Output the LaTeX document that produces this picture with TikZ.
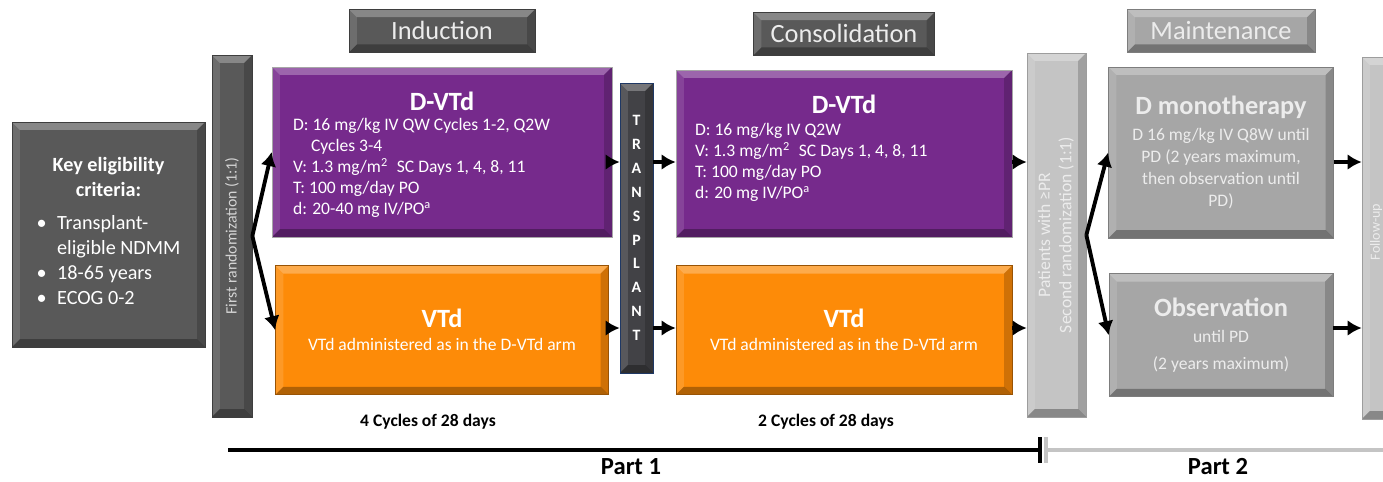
\documentclass[tikz,border=0pt]{standalone}
\usepackage{fontspec}
\setmainfont{Carlito}
\usepackage{graphicx}
\usetikzlibrary{positioning,arrows.meta}

\definecolor{boxdark}{RGB}{89,89,89}
\definecolor{boxslate}{RGB}{66,66,70}
\definecolor{slateedge}{RGB}{31,56,100}
\definecolor{armpurple}{RGB}{118,42,140}
\definecolor{armorange}{RGB}{253,139,8}
\definecolor{boxlight}{RGB}{196,196,196}
\definecolor{boxmid}{RGB}{166,166,166}
\definecolor{textpale}{RGB}{236,236,236}

\begin{document}
\begin{tikzpicture}
    [
        x=0.02cm, y=-0.02cm,
        bevel/.style={path picture={
            \fill[white, opacity=0.28]
                (path picture bounding box.north west) -- (path picture bounding box.north east)
                -- ([shift={(-4.5pt,-4.5pt)}]path picture bounding box.north east)
                -- ([shift={(4.5pt,-4.5pt)}]path picture bounding box.north west) -- cycle;
            \fill[white, opacity=0.12]
                (path picture bounding box.north west) -- ([shift={(4.5pt,-4.5pt)}]path picture bounding box.north west)
                -- ([shift={(4.5pt,4.5pt)}]path picture bounding box.south west) -- (path picture bounding box.south west) -- cycle;
            \fill[black, opacity=0.30]
                (path picture bounding box.south west) -- ([shift={(4.5pt,4.5pt)}]path picture bounding box.south west)
                -- ([shift={(-4.5pt,4.5pt)}]path picture bounding box.south east) -- (path picture bounding box.south east) -- cycle;
            \fill[black, opacity=0.18]
                (path picture bounding box.north east) -- (path picture bounding box.south east)
                -- ([shift={(-4.5pt,4.5pt)}]path picture bounding box.south east)
                -- ([shift={(-4.5pt,-4.5pt)}]path picture bounding box.north east) -- cycle;
        }},
        panel/.style={shape=rectangle, bevel, inner sep=0pt, thin},
        dark box/.style={panel, fill=boxdark, draw=boxdark!70!black, text=white},
        phase head/.style={dark box, minimum width=3.72cm, minimum height=0.86cm,
                           text=textpale, font=\fontsize{15}{18}\selectfont},
        rand bar/.style={dark box, minimum width=0.8cm, minimum height=7.24cm,
                         text=textpale!90!black, font=\fontsize{9}{11}\selectfont},
        light bar/.style={panel, fill=boxlight, draw=boxlight!80!black, minimum width=1.18cm,
                          minimum height=7.28cm, text=textpale, font=\fontsize{10}{12}\selectfont},
        slate bar/.style={panel, fill=boxslate, draw=slateedge, minimum width=0.66cm, minimum height=5.8cm,
                          align=center, text=white, font=\bfseries\fontsize{9}{13.6}\selectfont},
        purple arm/.style={panel, fill=armpurple, draw=gray!70, minimum width=6.8cm, minimum height=3.4cm},
        orange arm/.style={panel, fill=armorange, draw=armorange!60!black, minimum width=6.66cm,
                           minimum height=2.58cm, align=center, text=white, font=\fontsize{10}{12}\selectfont},
        grey arm/.style={panel, fill=boxmid, draw=boxmid!75!black, minimum width=4.5cm, minimum height=3.42cm,
                         align=center, text=textpale, font=\fontsize{10}{12.6}\selectfont},
        arm title/.style={inner sep=0pt, text=white, font=\bfseries\fontsize{15}{18}\selectfont},
        arm text/.style={inner sep=0pt, text=white, align=left, font=\fontsize{10}{12.05}\selectfont},
        cycle note/.style={inner sep=0pt, font=\bfseries\fontsize{10}{12}\selectfont},
        part label/.style={inner sep=0pt, font=\bfseries\fontsize{14}{16}\selectfont},
        arrow/.style={-{Latex[length=8pt,width=9pt]}, line width=2.2pt, black},
        timeline/.style={line width=2.8pt, black},
        time tick/.style={line width=2.4pt}
    ]
    \useasboundingbox (0,0) rectangle (1383,481);

    % left column
    \node (criteria)
          [dark box, minimum width=3.86cm, minimum height=4.5cm, align=center,
           font=\fontsize{11.5}{14.2}\selectfont]
          at (108.5,234.5)
          {\textbf{Key eligibility}\\\textbf{criteria:}\\[8pt]
           \begin{tabular}{@{}l@{\hspace{6pt}}l@{}}
           \textbullet & Transplant-\\
                       & eligible NDMM\\
           \textbullet & 18-65 years\\
           \textbullet & ECOG 0-2
           \end{tabular}};

    \node (rand one)
          [rand bar]
          at (232,236)
          {\rotatebox{90}{First randomization (1:1)}};

    % part 1
    \node (ind dvtd)
          [purple arm]
          at (442,152)
          {};
    \node (ind dvtd title)
          [arm title, below=0.5cm of ind dvtd.north]
          {D-VTd};
    \node (ind dvtd text)
          [arm text, below right=1.02cm and 0.42cm of ind dvtd.north west]
          {D: 16 mg/kg IV QW Cycles 1-2, Q2W\\
           \hspace*{0.36cm}Cycles 3-4\\
           V: 1.3 mg/m\textsuperscript{2}\enspace SC Days 1, 4, 8, 11\\
           T: 100 mg/day PO\\
           d: 20-40 mg IV/PO\textsuperscript{a}};

    \node (ind vtd)
          [orange arm, below=0.56cm of ind dvtd]
          {{\bfseries\fontsize{15}{18}\selectfont VTd}\\[1pt]
           VTd administered as in the D-VTd arm};

    \node (induction)
          [phase head, above=0.28cm of ind dvtd]
          {Induction};

    \node (transplant)
          [slate bar]
          at (636.5,228)
          {T\\R\\A\\N\\S\\P\\L\\A\\N\\T};

    \node (cons dvtd)
          [purple arm, minimum width=6.72cm, minimum height=3.34cm]
          at (844,153.5)
          {};
    \node (cons dvtd title)
          [arm title, below=0.5cm of cons dvtd.north]
          {D-VTd};
    \node (cons dvtd text)
          [arm text, below right=1.06cm and 0.38cm of cons dvtd.north west]
          {D: 16 mg/kg IV Q2W\\
           V: 1.3 mg/m\textsuperscript{2}\enspace SC Days 1, 4, 8, 11\\
           T: 100 mg/day PO\\
           d: 20 mg IV/PO\textsuperscript{a}};

    \node (cons vtd)
          [orange arm, minimum width=6.72cm, below=0.56cm of cons dvtd]
          {{\bfseries\fontsize{15}{18}\selectfont VTd}\\[1pt]
           VTd administered as in the D-VTd arm};

    \node (consolidation)
          [phase head, minimum width=3.62cm, above=0.28cm of cons dvtd]
          {Consolidation};

    \node (induction cycles)  [cycle note] at (428,422) {4 Cycles of 28 days};
    \node (consolidation cycles) [cycle note] at (826,422) {2 Cycles of 28 days};

    % part 2
    \node (rand two)
          [light bar]
          at (1056.5,235)
          {\rotatebox{90}{\begin{tabular}{@{}c@{}}Patients with ≥PR\\Second randomization (1:1)\end{tabular}}};

    \node (dmono)
          [grey arm]
          at (1221,152.5)
          {{\bfseries\fontsize{15}{18}\selectfont D monotherapy}\\[2pt]
           D 16 mg/kg IV Q8W until\\PD (2 years maximum,\\then observation until\\PD)};

    \node (obs)
          [grey arm, minimum width=4.48cm, minimum height=2.46cm, below=0.7cm of dmono]
          {{\bfseries\fontsize{15}{18}\selectfont Observation}\\[2pt]
           until PD\\[3pt](2 years maximum)};

    \node (maintenance)
          [phase head, fill=boxmid, draw=boxmid!75!black, minimum width=3.76cm, above=0.28cm of dmono]
          {Maintenance};

    \node (follow)
          [light bar, minimum width=0.84cm, minimum height=7.24cm]
          at (1383,238)
          {};
    \node (follow text)
          [inner sep=0pt, text=textpale, font=\fontsize{8}{10}\selectfont]
          at (1376,232)
          {\rotatebox{90}{Follow-up}};

    % arrows
    \coordinate (upper arm) at (0,162);
    \coordinate (lower arm) at (0,328);

    \path[arrow]
    (rand one.east) edge (ind dvtd.west)
    (rand one.east) edge (ind vtd.west)
    (ind dvtd.east |- upper arm) edge (transplant.west |- upper arm)
    (ind vtd.east |- lower arm)  edge (transplant.west |- lower arm)
    (transplant.east |- upper arm) edge (cons dvtd.west |- upper arm)
    (transplant.east |- lower arm) edge (cons vtd.west |- lower arm)
    (cons dvtd.east |- upper arm) edge (rand two.west |- upper arm)
    (cons vtd.east |- lower arm)  edge (rand two.west |- lower arm)
    (rand two.east) edge (dmono.west)
    (rand two.east) edge (obs.west)
    (dmono.east |- upper arm) edge (follow.west |- upper arm)
    (obs.east |- lower arm)   edge (follow.west |- lower arm)
    ;

    % timeline
    \coordinate (part one start) at (228,450);
    \coordinate (part one end)   at (1040,450);
    \coordinate (part two start) at (1046,450);
    \coordinate (part two end)   at (1383,450);

    \draw[timeline] (part one start) -- (part one end);
    \draw[time tick, black] ([yshift=0.26cm]part one end) -- ([yshift=-0.26cm]part one end);
    \draw[timeline, boxlight] (part two start) -- (part two end);
    \draw[time tick, boxlight] ([yshift=0.26cm]part two start) -- ([yshift=-0.26cm]part two start);

    \node (part one) [part label] at (631,467) {Part 1};
    \node (part two) [part label] at (1218,467) {Part 2};
\end{tikzpicture}
\end{document}
